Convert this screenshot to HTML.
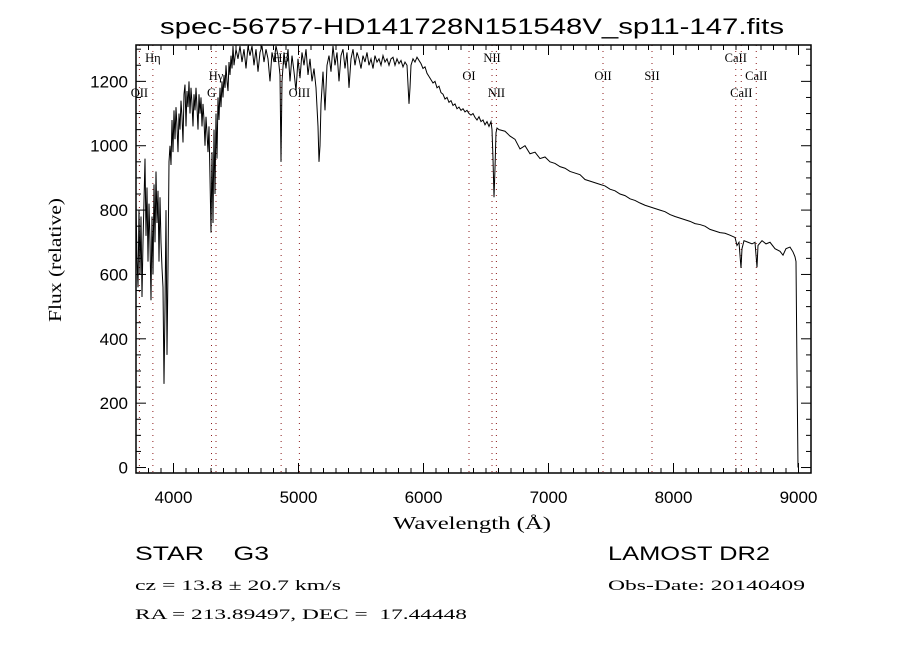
<!DOCTYPE html>
<html><head><meta charset="utf-8"><style>
body{margin:0;background:#fff;}
svg{display:block;}
text{fill:#000;}
</style></head><body>
<svg id="chart" width="900" height="650" viewBox="0 0 900 650" xmlns="http://www.w3.org/2000/svg">
<rect x="0" y="0" width="900" height="650" fill="#fff"/>
<text x="472" y="34" text-anchor="middle" font-family="Liberation Sans, sans-serif" font-size="22" textLength="624" lengthAdjust="spacingAndGlyphs">spec-56757-HD141728N151548V_sp11-147.fits</text>
<text transform="translate(61,260) rotate(-90)" text-anchor="middle" font-family="Liberation Serif, serif" font-size="18" textLength="124" lengthAdjust="spacingAndGlyphs">Flux (relative)</text>
<text x="472" y="529" text-anchor="middle" font-family="Liberation Serif, serif" font-size="18" textLength="158" lengthAdjust="spacingAndGlyphs">Wavelength (Å)</text>
<text x="135" y="560" font-family="Liberation Sans, sans-serif" font-size="19" xml:space="preserve" textLength="134" lengthAdjust="spacingAndGlyphs">STAR    G3</text>
<text x="135" y="590" font-family="Liberation Serif, serif" font-size="15" textLength="206" lengthAdjust="spacingAndGlyphs">cz = 13.8 ± 20.7 km/s</text>
<text x="135" y="619" font-family="Liberation Serif, serif" font-size="15" xml:space="preserve" textLength="332" lengthAdjust="spacingAndGlyphs">RA = 213.89497, DEC =  17.44448</text>
<text x="608" y="560" font-family="Liberation Sans, sans-serif" font-size="19" textLength="162" lengthAdjust="spacingAndGlyphs">LAMOST DR2</text>
<text x="608" y="590" font-family="Liberation Serif, serif" font-size="15" textLength="197" lengthAdjust="spacingAndGlyphs">Obs-Date: 20140409</text>
<g id="plot"></g>
</svg>
<script>
const wavelengths=[3700,3708,3716,3724,3732,3740,3748,3756,3772,3780,3788,3796,3804,3812,3820,3828,3836,3844,3852,3860,3868,3876,3884,3892,3900,3908,3916,3924,3932,3940,3948,3956,3964,3972,3980,3988,3996,4004,4012,4020,4028,4036,4044,4052,4060,4068,4076,4084,4092,4100,4108,4116,4124,4132,4140,4148,4156,4164,4172,4180,4188,4196,4204,4212,4220,4228,4236,4244,4252,4260,4268,4276,4284,4292,4300,4308,4316,4324,4332,4340,4348,4356,4364,4372,4380,4388,4396,4404,4412,4420,4428,4436,4444,4452,4460,4468,4476,4484,4500,4516,4532,4548,4564,4580,4596,4612,4628,4644,4660,4676,4692,4708,4724,4740,4756,4772,4788,4804,4820,4836,4852,4860,4868,4884,4900,4916,4932,4948,4964,4980,4996,5012,5028,5044,5060,5076,5092,5108,5124,5140,5156,5164,5172,5180,5196,5212,5228,5244,5260,5276,5292,5308,5324,5340,5356,5372,5388,5404,5420,5436,5452,5468,5484,5500,5516,5532,5548,5564,5580,5596,5612,5628,5644,5660,5676,5692,5708,5724,5740,5756,5772,5788,5804,5820,5836,5852,5868,5884,5892,5900,5916,5932,5948,5964,5980,5996,6012,6028,6044,6060,6076,6092,6108,6124,6140,6156,6172,6188,6204,6220,6236,6252,6268,6284,6300,6316,6332,6348,6364,6380,6396,6412,6428,6444,6460,6476,6492,6508,6524,6540,6548,6556,6564,6572,6580,6588,6604,6652,6692,6732,6772,6812,6852,6892,6932,6972,7012,7052,7092,7132,7172,7212,7252,7292,7332,7372,7412,7452,7492,7532,7572,7612,7652,7692,7732,7772,7812,7852,7892,7932,7972,8012,8052,8092,8132,8172,8212,8252,8292,8332,8372,8412,8452,8492,8508,8524,8540,8548,8564,8596,8628,8652,8668,8676,8708,8740,8772,8812,8852,8876,8900,8932,8956,8972,8980,8988,8996];
const flux=[820,650,560,800,600,780,530,700,960,720,870,640,820,700,520,780,600,880,700,920,760,860,640,840,700,620,560,260,500,800,350,620,950,1000,940,1080,980,1110,1020,1120,1060,980,1100,1050,1140,1090,1010,1160,1190,1060,1170,1120,1200,1100,1180,1130,1060,1160,1110,1180,1120,1050,1160,1100,1150,1060,1130,1080,1000,1090,1040,980,1060,900,730,980,760,1050,850,1100,960,1150,1080,1180,1120,1200,1150,1220,1180,1250,1200,1170,1260,1220,1280,1240,1310,1250,1300,1270,1310,1260,1300,1240,1310,1280,1310,1250,1300,1230,1290,1310,1260,1300,1270,1200,1290,1260,1310,1280,1220,950,1200,1290,1240,1300,1200,1280,1230,1170,1270,1210,1290,1250,1300,1220,1270,1200,1240,1180,1060,950,1000,1130,1230,1110,1250,1280,1230,1310,1250,1290,1200,1280,1300,1240,1290,1180,1270,1300,1250,1290,1270,1240,1280,1260,1290,1250,1270,1240,1280,1260,1270,1250,1280,1260,1270,1250,1270,1275,1250,1270,1255,1265,1245,1260,1250,1130,1180,1250,1270,1260,1275,1265,1255,1240,1245,1225,1215,1205,1195,1200,1180,1185,1165,1160,1145,1150,1135,1140,1125,1130,1115,1120,1110,1115,1105,1110,1100,1095,1100,1088,1080,1090,1075,1080,1065,1075,1060,1075,1050,960,840,930,1040,1055,1050,1045,1030,1020,990,1000,975,980,960,965,950,945,935,930,920,915,910,895,890,885,880,875,865,860,850,845,835,830,822,815,810,805,800,795,786,780,775,770,765,758,755,750,740,735,730,728,722,715,690,700,620,680,705,700,695,700,622,690,705,695,700,680,672,660,680,685,670,655,640,300,0];
const xTickValues=[4000,5000,6000,7000,8000,9000];
const xTickLabels=["4000","5000","6000","7000","8000","9000"];
const yTickValues=[0,200,400,600,800,1000,1200];
const yTickLabels=["0","200","400","600","800","1000","1200"];
const lineWavelengths=[3727,3835,4304,4340,4861,5007,6364,6548,6583,7436,7828,8498,8542,8662];
const lineNames=["OII","Hη","G","Hγ","Hβ","OIII","OI","NII","NII","OII","SII","CaII","CaII","CaII"];
const lineLabelRows=[2,0,2,1,0,2,1,0,2,1,1,0,2,1];

const L=136,R=811,T=45,B=473;
const X0=3700,X1=9100,Y0=-17,Y1=1313;
function xs(w){return L+(w-X0)/(X1-X0)*(R-L);}
function ys(f){return B-(f-Y0)/(Y1-Y0)*(B-T);}
const NS="http://www.w3.org/2000/svg";
const g=document.getElementById('plot');
function mk(tag,attrs){const e=document.createElementNS(NS,tag);for(const k in attrs)e.setAttribute(k,attrs[k]);g.appendChild(e);return e;}

const defs=mk('defs',{});
const cp=document.createElementNS(NS,'clipPath');cp.setAttribute('id','clip');
const cr=document.createElementNS(NS,'rect');cr.setAttribute('x',L);cr.setAttribute('y',T);cr.setAttribute('width',R-L);cr.setAttribute('height',B-T);
cp.appendChild(cr);defs.appendChild(cp);

lineWavelengths.forEach((w,i)=>{
  const x=xs(w);
  const l=mk('line',{x1:x,x2:x,y1:T,y2:B,stroke:'#8b1a1a','stroke-width':1,'stroke-dasharray':'1,5'});
  
  
  const yy=[62,80,97][lineLabelRows[i]];
  const t=mk('text',{x:x,y:yy,'text-anchor':'middle','font-family':'Liberation Serif, serif','font-size':12.5});
  t.textContent=lineNames[i];
  
  
});

let d='';
wavelengths.forEach((w,i)=>{d+=(i?'L':'M')+xs(w).toFixed(2)+','+ys(flux[i]).toFixed(2);});
const p=mk('path',{d:d,fill:'none',stroke:'#000','stroke-width':1,'clip-path':'url(#clip)'});



const box=mk('rect',{x:L,y:T,width:R-L,height:B-T,fill:'none',stroke:'#000','stroke-width':1.5});



for(let w=3700;w<=9100;w+=100){
  const x=xs(w);const major=(w%1000===0);const len=major?10:5;
  mk('line',{x1:x,x2:x,y1:B,y2:B-len,stroke:'#000','stroke-width':1});
  mk('line',{x1:x,x2:x,y1:T,y2:T+len,stroke:'#000','stroke-width':1});
}
xTickValues.forEach((v,i)=>{
  const t=mk('text',{x:xs(v),y:B+30,'text-anchor':'middle','font-family':'Liberation Sans, sans-serif','font-size':17});
  t.textContent=xTickLabels[i];
  
  
});
for(let f=0;f<=1300;f+=50){
  const y=ys(f);const major=(f%200===0);const len=major?10:5;
  mk('line',{x1:L,x2:L+len,y1:y,y2:y,stroke:'#000','stroke-width':1});
  mk('line',{x1:R,x2:R-len,y1:y,y2:y,stroke:'#000','stroke-width':1});
}
yTickValues.forEach((v,i)=>{
  const t=mk('text',{x:L-8,y:ys(v)+6,'text-anchor':'end','font-family':'Liberation Sans, sans-serif','font-size':17});
  t.textContent=yTickLabels[i];
  
  
});
</script>
</body></html>
